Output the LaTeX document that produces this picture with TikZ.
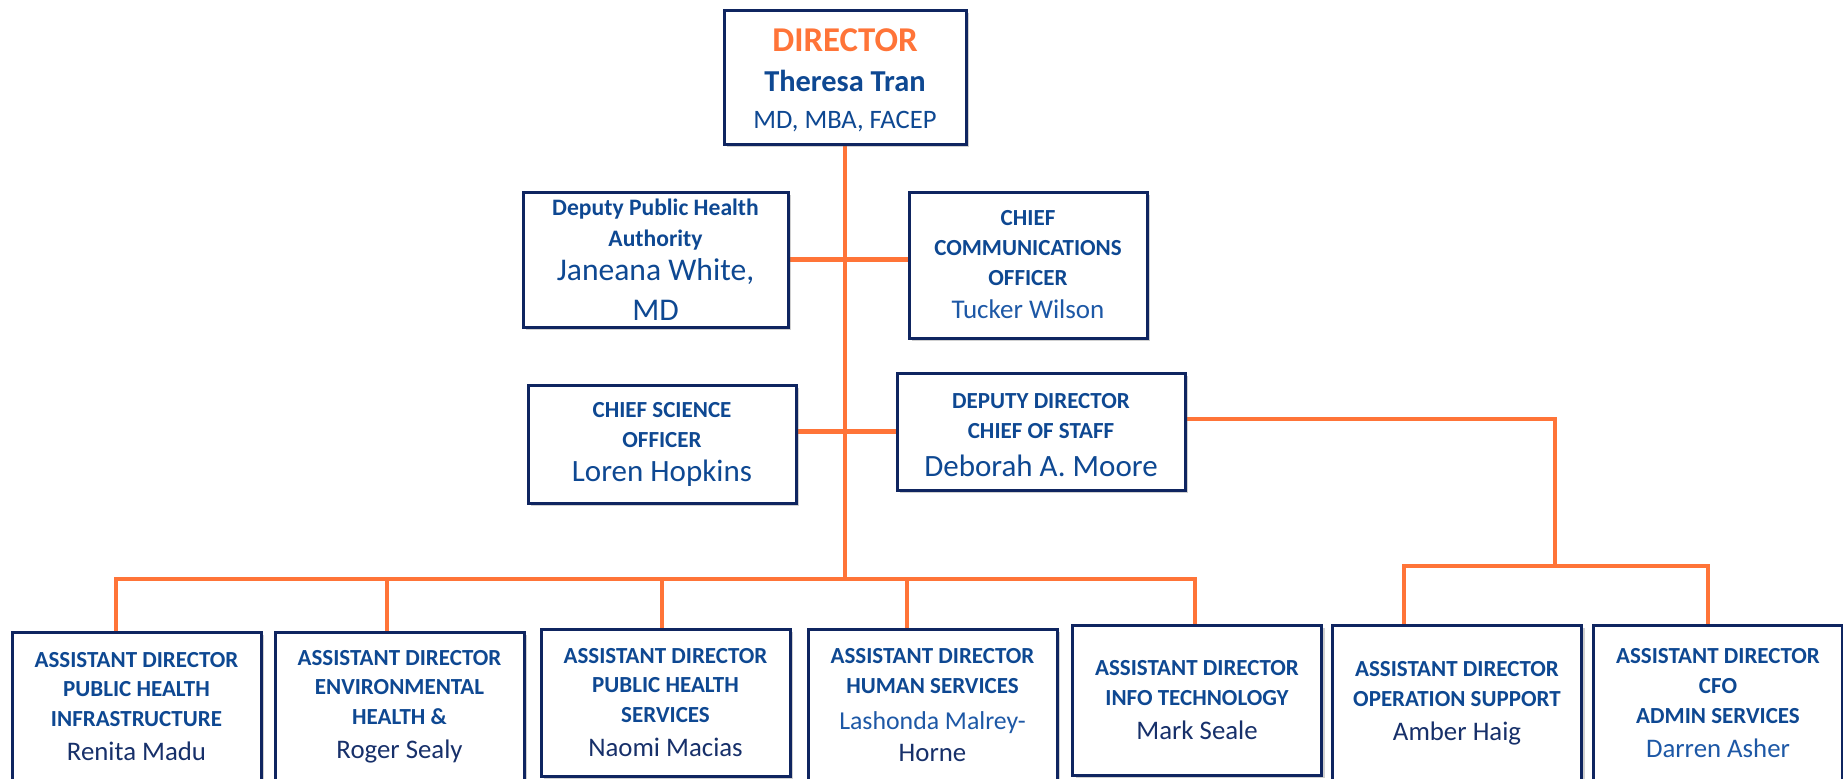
\documentclass[tikz,border=0pt]{standalone}
\usepackage{fontspec}
\setmainfont{Carlito}
\usetikzlibrary{shadows,backgrounds}
\definecolor{boxline}{HTML}{0F2560}
\definecolor{titleblue}{HTML}{0E4892}
\definecolor{nameblue}{HTML}{17306A}
\definecolor{lightblue}{HTML}{1D58A6}
\definecolor{linkorange}{HTML}{FF7438}
\tikzset{
  box/.style={draw=boxline, line width=1.5pt, fill=white, align=center, inner sep=0pt,
    drop shadow={shadow xshift=1.5pt, shadow yshift=-1.5pt, opacity=0.3, fill=black!60},
    font=\fontsize{11.5}{14.8}\selectfont\bfseries, text=titleblue},
  link/.style={draw=linkorange, line width=2.3pt},
  lowbox/.style={box, minimum width=124.5pt}
}
% name lines: medium blue, navy, light blue
\newcommand{\pname}[2][13.4]{{\fontsize{#1}{#1}\selectfont\mdseries #2}}
\newcommand{\dname}[2][13.4]{{\fontsize{#1}{#1}\selectfont\mdseries\color{nameblue}#2}}
\newcommand{\lname}[2][13.4]{{\fontsize{#1}{#1}\selectfont\mdseries\color{lightblue}#2}}
\begin{document}
\begin{tikzpicture}[x=0.5pt, y=-0.5pt]
  \useasboundingbox (0,0) rectangle (1843,778);
  % top level
  \node[box, minimum width=121pt, minimum height=67pt,
        font=\fontsize{13.3}{18.75}\selectfont\bfseries] (dir) at (845,77)
    {\rule{0pt}{14.5pt}{\fontsize{17.4}{20}\selectfont\color{linkorange}DIRECTOR}\\[1.3pt]
     {\fontsize{15.2}{18}\selectfont Theresa Tran}\\
     {\mdseries MD, MBA, FACEP}};
  % staff
  \node[box, minimum width=132.5pt, minimum height=67.5pt,
        font=\fontsize{11.8}{15.5}\selectfont\bfseries] (pha) at (655.5,259.5)
    {Deputy Public Health\\Authority\\[1.5pt]
     \pname[15.8]{Janeana White,}\\[4.5pt]\pname[15.8]{MD}};
  \node[box, minimum width=119pt, minimum height=73pt,
        font=\fontsize{11.5}{15}\selectfont\bfseries] (comms) at (1028,265)
    {CHIEF\\COMMUNICATIONS\\OFFICER\\[1.5pt]\lname[13.5]{Tucker Wilson}};
  \node[box, minimum width=134pt, minimum height=59pt,
        font=\fontsize{11.5}{15}\selectfont\bfseries] (cso) at (662,444)
    {CHIEF SCIENCE\\OFFICER\\[2pt]\pname[15.5]{Loren Hopkins}};
  \node[box, minimum width=144pt, minimum height=58.5pt,
        font=\fontsize{11.5}{15}\selectfont\bfseries] (dd) at (1041,431.5)
    {\rule{0pt}{10.9pt}DEPUTY DIRECTOR\\CHIEF OF STAFF\\[4.1pt]\pname[15.5]{Deborah A. Moore}};
  % assistant directors
  \node[lowbox, minimum height=74.5pt] (ad1) at (136.5,706.5)
    {ASSISTANT DIRECTOR\\PUBLIC HEALTH\\INFRASTRUCTURE\\[2.2pt]\dname{Renita Madu}};
  \node[lowbox, minimum height=74.5pt] (ad2) at (399.5,706.5)
    {ASSISTANT DIRECTOR\\ENVIRONMENTAL\\HEALTH \&\\[2.2pt]\dname{Roger Sealy}};
  \node[lowbox, minimum height=73.5pt] (ad3) at (665.5,702.5)
    {ASSISTANT DIRECTOR\\PUBLIC HEALTH\\SERVICES\\[2.2pt]\dname{Naomi Macias}};
  \node[lowbox, minimum height=76pt] (ad4) at (932.5,705)
    {ASSISTANT DIRECTOR\\HUMAN SERVICES\\[3.3pt]\lname[12.9]{Lashonda Malrey-}\\[0.9pt]\dname{Horne}};
  \node[lowbox, minimum height=75pt] (ad5) at (1197,700)
    {ASSISTANT DIRECTOR\\INFO TECHNOLOGY\\[2.2pt]\dname{Mark Seale}};
  \node[lowbox, minimum height=78pt] (ad6) at (1457,703)
    {ASSISTANT DIRECTOR\\OPERATION SUPPORT\\[2.2pt]\dname{Amber Haig}};
  \node[lowbox, minimum height=78pt] (ad7) at (1718,703)
    {ASSISTANT DIRECTOR\\CFO\\ADMIN SERVICES\\[2.2pt]\lname{Darren Asher}};
  % bus points
  \coordinate (bus) at (844,579);
  \coordinate (d1) at (116,579);
  \coordinate (d2) at (387,579);
  \coordinate (d3) at (662,579);
  \coordinate (d4) at (907,579);
  \coordinate (d5) at (1195,579);
  \coordinate (ddturn) at (1555,419);
  \coordinate (d6) at (1404,566);
  \coordinate (d7) at (1708,566);
  % connectors
  \begin{scope}[on background layer]
    \fill[white] (0,0) rectangle (1843,778);
    \draw[link] (dir.south) -- (dir.south |- bus);
    \draw[link] (pha.east) -- (pha.east -| comms.west);
    \draw[link] (cso.east |- dd.west) -- (dd.west);
    \draw[link] (dd.east |- ddturn) -- (ddturn) -- (ddturn |- d6);
    \draw[link] (ad1.north -| d1) -- (d1) -- (d5) -- (ad5.north -| d5);
    \draw[link] (ad6.north -| d6) -- (d6) -- (d7) -- (ad7.north -| d7);
    \foreach \n/\d in {ad2/d2, ad3/d3, ad4/d4}
      \draw[link] (\d) -- (\n.north -| \d);
  \end{scope}
\end{tikzpicture}
\end{document}
